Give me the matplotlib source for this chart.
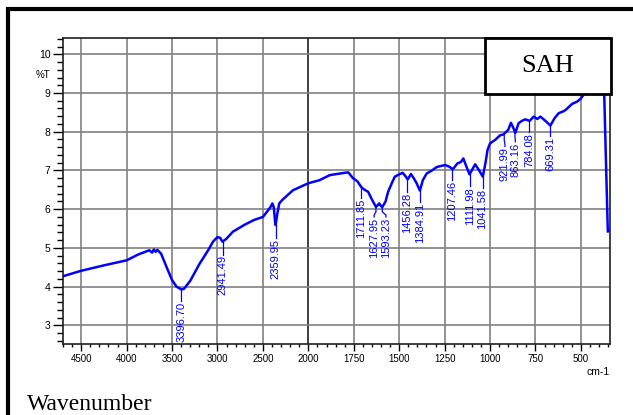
import matplotlib
matplotlib.use("Agg")
import matplotlib.pyplot as plt
import numpy as np
from matplotlib.patches import Rectangle
from matplotlib.ticker import FixedLocator

# FTIR spectrum of SAH (wavenumber in cm-1, transmittance in %T)
wavenumber = [4700, 4500, 4250, 4000, 3873, 3750, 3720, 3700, 3680, 3660, 3620,
              3550, 3500, 3450, 3400, 3370, 3300, 3200, 3100, 3050, 3000, 2970,
              2945, 2900, 2830, 2700, 2600, 2500, 2450, 2410, 2396, 2380, 2365,
              2360, 2340, 2320, 2286, 2169, 2000, 1938, 1882, 1800, 1780, 1754,
              1730, 1707, 1690, 1671, 1650, 1628, 1615, 1610, 1600, 1592, 1575,
              1561, 1540, 1524, 1500, 1481, 1465, 1453, 1435, 1420, 1404, 1386,
              1370, 1349, 1320, 1293, 1248, 1225, 1205, 1180, 1160, 1147, 1130,
              1113, 1095, 1082, 1060, 1040, 1025, 1014, 1000, 972, 944, 926, 900,
              885, 872, 861, 843, 825, 806, 782, 760, 740, 723, 700, 668, 645,
              622, 600, 585, 548, 520, 502, 480, 450, 420, 395, 378, 372, 362,
              352, 345]
transmittance = [4.27, 4.41, 4.55, 4.68, 4.83, 4.94, 4.88, 4.96, 4.90, 4.95, 4.85,
                 4.45, 4.17, 4.00, 3.93, 3.94, 4.15, 4.58, 4.95, 5.16, 5.28, 5.26,
                 5.16, 5.24, 5.42, 5.60, 5.72, 5.80, 5.95, 6.08, 6.15, 6.05, 5.65,
                 5.59, 5.90, 6.15, 6.24, 6.49, 6.67, 6.75, 6.88, 6.94, 6.95, 6.80,
                 6.72, 6.56, 6.50, 6.45, 6.25, 6.06, 6.12, 6.15, 6.08, 6.06, 6.20,
                 6.45, 6.68, 6.84, 6.90, 6.94, 6.85, 6.77, 6.91, 6.80, 6.67, 6.48,
                 6.75, 6.92, 7.00, 7.09, 7.14, 7.10, 7.03, 7.18, 7.22, 7.31, 7.10,
                 6.90, 7.05, 7.16, 7.00, 6.84, 7.20, 7.53, 7.70, 7.79, 7.91, 7.93, 8.05,
                 8.23, 8.10, 7.97, 8.22, 8.28, 8.32, 8.28, 8.39, 8.33, 8.39, 8.30, 8.16, 8.35,
                 8.48, 8.52, 8.56, 8.72, 8.78, 8.85, 8.99, 9.15, 9.30, 9.40, 9.30, 9.00, 7.20,
                 5.42, 5.45]

# peak picks: position, label x position, top of label text
peak_wn = [3396.70, 2941.49, 2359.95, 1711.85, 1627.95, 1593.23, 1456.28,
           1384.91, 1207.46, 1111.98, 1041.58, 921.99, 863.16, 784.08, 669.31]
label_wn = [3396.70, 2941.49, 2359.95, 1711.85, 1638.0, 1573.0, 1456.28,
            1384.91, 1207.46, 1111.98, 1041.58, 918.0, 861.0, 784.08, 669.31]
label_top = [3.62, 4.83, 5.26, 6.30, 5.80, 5.80, 6.45, 6.19, 6.75, 6.59,
             6.55, 7.62, 7.74, 7.99, 7.90]

x_major = [4500, 4000, 3500, 3000, 2500, 2000, 1750, 1500, 1250, 1000, 750, 500]
y_major = [3, 4, 5, 6, 7, 8, 9, 10]

BLUE = "#0000ff"
GRID = "#808080"
SANS = ["Liberation Sans", "DejaVu Sans"]


def fwd(w):
    w = np.asarray(w, dtype=float)
    return np.where(w > 2000, 2000 + (w - 2000) / 2.0, w)


def inv(u):
    u = np.asarray(u, dtype=float)
    return np.where(u > 2000, 2000 + (u - 2000) * 2.0, u)


W, H = 633, 415
fig = plt.figure(figsize=(W / 100, H / 100), dpi=100)
ax = fig.add_axes([63 / W, 1 - 344 / H, (610 - 63) / W, (344 - 38) / H])
ax.set_xscale("function", functions=(fwd, inv))
ax.set_xlim(4700, 340)
ax.set_ylim(2.52, 10.42)

ax.xaxis.set_major_locator(FixedLocator(x_major))
minor_x = list(range(4700, 2000, -100)) + list(range(2000, 340, -50))
ax.xaxis.set_minor_locator(FixedLocator(minor_x))
ax.yaxis.set_major_locator(FixedLocator(y_major))
ax.yaxis.set_minor_locator(FixedLocator(np.arange(2.6, 10.41, 0.2)))

ax.set_xticklabels([str(v) for v in x_major], family=SANS, fontsize=7)
ax.set_yticklabels([str(v) for v in y_major], family=SANS, fontsize=7.5)
ax.tick_params(axis="x", which="major", direction="out", length=5, width=1, pad=2)
ax.tick_params(axis="x", which="minor", direction="out", length=2.5, width=1)
ax.tick_params(axis="y", which="major", direction="out", length=7, width=1, pad=2)
ax.tick_params(axis="y", which="minor", direction="out", length=4, width=1)

for v in x_major:
    ax.axvline(v, color="#202020" if v == 2000 else GRID, lw=1.2, zorder=1)
for v in y_major:
    ax.axhline(v, color=GRID, lw=1.2, zorder=1)

for s in ax.spines.values():
    s.set_linewidth(1.2)
    s.set_color("#202020")

ax.plot(wavenumber, transmittance, color=BLUE, lw=1.8, zorder=3)

# peak annotations with leader lines
for pw, lw_, top in zip(peak_wn, label_wn, label_top):
    tp = np.interp(pw, wavenumber[::-1], transmittance[::-1])
    mid = tp - 0.5 * (tp - top)
    ax.plot([pw, pw, lw_, lw_], [tp, mid, top + 0.05, top], color=BLUE, lw=0.9, zorder=3)
    ax.text(lw_, top - 0.02, f"{pw:.2f}", rotation=90, ha="center", va="top",
            color=BLUE, fontsize=8, family=SANS, zorder=4)

fig.text(43 / W, 1 - 75 / H, "%T", family=SANS, fontsize=7, ha="center", va="center")
fig.text(610 / W, 1 - 372 / H, "cm-1", family=SANS, fontsize=7.5, ha="right", va="center")
fig.text(27 / W, 1 - 410 / H, "Wavenumber", family=["Liberation Serif"], fontsize=17,
         ha="left", va="baseline")

# sample name box
fig.add_artist(Rectangle((485 / W, 1 - 94 / H), (611 - 485) / W, (94 - 38) / H,
                         transform=fig.transFigure, facecolor="white",
                         edgecolor="black", lw=2, zorder=5))
fig.text(548 / W, 1 - 66 / H, "SAH", family=["Liberation Serif"], fontsize=19,
         ha="center", va="center", zorder=6)

# outer frame
fig.add_artist(Rectangle((8 / W, -0.2), 1.2, 1.2 - 9 / H, transform=fig.transFigure,
                         facecolor="none", edgecolor="black", lw=3, zorder=7))

fig.savefig("out.png", dpi=100)
